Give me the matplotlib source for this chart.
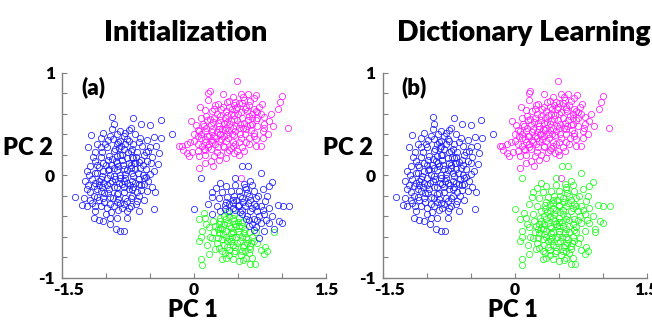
import numpy as np
import matplotlib
matplotlib.use("Agg")
import matplotlib.pyplot as plt
from matplotlib.transforms import ScaledTranslation

plt.rcParams['font.family'] = ['Lato', 'DejaVu Sans']

# ---------------- data (PC1, PC2) ----------------
left_cluster = [
    (-0.93, 0.57), (-0.69, 0.56), (-0.91, 0.50), (-0.60, 0.50), (-0.50, 0.49), (-0.38, 0.54),
    (-0.72, 0.46), (-0.93, 0.45), (-0.84, 0.43), (-0.78, 0.41), (-1.03, 0.41), (-1.17, 0.39),
    (-1.06, 0.36), (-0.95, 0.38), (-0.25, 0.40), (-0.61, 0.36), (-0.53, 0.34), (-0.45, 0.37),
    (-0.37, 0.36), (-1.20, 0.27), (-1.13, 0.22), (-1.06, 0.27), (-0.99, 0.27), (-0.88, 0.30),
    (-0.84, 0.33), (-0.74, 0.33), (-0.69, 0.30), (-0.59, 0.28), (-0.50, 0.27), (-0.43, 0.28),
    (-0.40, 0.21), (-0.52, 0.23), (-0.57, 0.20), (-0.65, 0.22), (-0.72, 0.23), (-0.80, 0.25),
    (-0.91, 0.23), (-0.97, 0.19), (-0.88, 0.19), (-0.84, 0.20), (-0.76, 0.17), (-0.69, 0.17),
    (-0.60, 0.15), (-0.53, 0.14), (-0.49, 0.12), (-0.41, 0.11), (-1.03, 0.12), (-1.10, 0.10),
    (-1.18, 0.09), (-1.22, 0.04), (-1.24, -0.06), (-1.22, -0.14), (-1.25, -0.22), (-1.35, -0.21),
    (-1.27, -0.29), (-1.16, -0.27), (-1.18, -0.17), (-1.14, -0.11), (-1.08, -0.06), (-1.10, 0.02),
    (-1.03, 0.04), (-0.97, 0.06), (-0.91, 0.07), (-0.86, 0.09), (-0.80, 0.06), (-0.72, 0.07),
    (-0.67, 0.06), (-0.61, 0.07), (-0.55, 0.06), (-0.50, 0.01), (-0.57, -0.03), (-0.63, -0.09),
    (-0.57, -0.09), (-0.48, -0.12), (-0.44, -0.17), (-0.69, -0.12), (-0.76, -0.08), (-0.84, -0.03),
    (-0.91, -0.01), (-0.99, -0.03), (-1.03, -0.08), (-0.97, -0.14), (-1.06, -0.16), (-1.10, -0.21),
    (-1.03, -0.22), (-0.95, -0.21), (-0.88, -0.19), (-0.80, -0.17), (-0.72, -0.22), (-0.76, -0.25),
    (-0.84, -0.27), (-0.91, -0.30), (-0.99, -0.32), (-1.06, -0.30), (-1.12, -0.35), (-0.86, -0.34),
    (-0.76, -0.35), (-0.74, -0.32), (-0.65, -0.25), (-0.57, -0.24), (-0.63, -0.35), (-0.45, -0.33),
    (-1.14, -0.42), (-1.08, -0.44), (-1.03, -0.45), (-0.95, -0.42), (-0.96, -0.48), (-0.89, -0.53),
    (-0.84, -0.55), (-0.79, -0.55), (-0.76, -0.42), (-0.88, -0.42), (-0.82, -0.09), (-0.88, -0.12),
    (-0.93, -0.06), (-1.05, -0.01), (-0.69, -0.01), (-0.53, -0.16), (-0.65, -0.17), (-0.78, 0.01),
    (-0.89, 0.14), (-0.82, 0.15), (-0.74, 0.12), (-0.67, 0.12),
    (-1.12, 0.02), (-1.08, -0.10), (-1.00, 0.10), (-0.95, 0.00), (-0.90, 0.25), (-0.86, 0.32),
    (-0.82, 0.20), (-0.78, 0.30), (-0.75, 0.22), (-0.70, 0.25), (-0.66, 0.18), (-0.64, 0.02),
    (-0.62, -0.04), (-0.70, -0.06), (-0.74, -0.14), (-0.80, -0.12), (-0.86, -0.18), (-0.92, -0.22),
    (-0.98, -0.18), (-1.02, -0.26), (-1.08, -0.24), (-1.14, -0.20), (-1.16, -0.04), (-1.19, 0.00),
    (-1.12, 0.14), (-1.06, 0.18), (-0.98, 0.15), (-0.94, 0.10), (-0.88, 0.05), (-0.84, 0.00),
    (-0.78, -0.03), (-0.72, 0.10), (-0.68, 0.12), (-0.58, 0.10), (-0.55, -0.02), (-0.60, -0.15),
    (-0.66, -0.28), (-0.72, -0.30), (-0.82, -0.32), (-0.94, -0.36), (-1.00, -0.38), (-1.04, -0.12),
    (-0.96, -0.08), (-0.90, -0.04), (-0.85, 0.26), (-0.92, 0.35), (-0.80, 0.38), (-0.74, 0.44),
    (-0.67, 0.40), (-1.01, 0.30), (-1.13, -0.30), (-1.20, -0.10), (-0.88, -0.26), (-0.78, -0.22),
    (-0.70, -0.20),
    (-1.10, 0.30), (-1.04, 0.22), (-0.98, 0.05), (-0.93, 0.16), (-0.87, 0.12), (-0.81, 0.10),
    (-0.76, 0.05), (-0.70, 0.02), (-0.63, 0.13), (-0.58, 0.00), (-0.52, -0.06), (-0.60, -0.10),
    (-0.67, -0.08), (-0.73, -0.10), (-0.79, -0.06), (-0.85, -0.08), (-0.91, -0.12), (-0.99, -0.10),
    (-1.06, -0.04), (-1.12, -0.08), (-1.18, -0.24), (-1.10, -0.14), (-1.02, -0.18), (-0.95, -0.28),
    (-0.86, -0.23), (-0.80, -0.28), (-0.70, -0.14), (-0.62, -0.20), (-0.98, 0.34), (-0.87, 0.40),
    (-0.76, 0.35), (-0.63, 0.32), (-0.55, 0.22), (-0.48, 0.18), (-0.46, 0.04), (-1.15, 0.18),
    (-1.22, -0.30), (-1.08, 0.08), (-0.83, 0.28), (-0.71, 0.18),
]

top_cluster = [
    (0.49, 0.92), (0.18, 0.82), (0.16, 0.80), (0.16, 0.73), (0.33, 0.79), (0.44, 0.76),
    (0.53, 0.79), (0.61, 0.79), (0.71, 0.78), (1.00, 0.77), (0.98, 0.71), (0.96, 0.64),
    (1.07, 0.46), (0.27, 0.69), (0.37, 0.71), (0.47, 0.71), (0.57, 0.73), (0.68, 0.75),
    (0.77, 0.69), (0.07, 0.66), (0.13, 0.63), (0.23, 0.64), (0.31, 0.64), (0.40, 0.66),
    (0.49, 0.66), (0.59, 0.66), (0.68, 0.64), (0.87, 0.60), (0.80, 0.57), (0.72, 0.61),
    (-0.03, 0.53), (0.02, 0.49), (0.08, 0.56), (0.15, 0.54), (0.23, 0.56), (0.30, 0.58),
    (0.38, 0.59), (0.46, 0.59), (0.53, 0.61), (0.63, 0.58), (0.70, 0.54), (0.79, 0.46),
    (0.85, 0.53), (0.11, 0.48), (0.19, 0.49), (0.27, 0.51), (0.34, 0.51), (0.42, 0.53),
    (0.49, 0.54), (0.57, 0.51), (0.64, 0.49), (0.72, 0.48), (0.06, 0.43), (0.13, 0.43),
    (0.21, 0.45), (0.28, 0.45), (0.36, 0.46), (0.44, 0.46), (0.51, 0.46), (0.59, 0.45),
    (0.68, 0.41), (0.78, 0.43), (0.00, 0.33), (0.08, 0.36), (0.15, 0.38), (0.23, 0.38),
    (0.30, 0.40), (0.38, 0.40), (0.46, 0.39), (0.53, 0.36), (0.63, 0.36), (0.70, 0.35),
    (0.78, 0.36), (0.70, 0.28), (0.76, 0.28), (-0.08, 0.30), (-0.17, 0.28), (-0.14, 0.28),
    (-0.04, 0.32), (0.04, 0.30), (0.13, 0.32), (0.21, 0.32), (0.28, 0.33), (0.36, 0.33),
    (0.44, 0.32), (0.51, 0.32), (0.59, 0.32), (-0.08, 0.21), (-0.02, 0.22), (0.04, 0.23),
    (0.11, 0.25), (0.19, 0.25), (0.27, 0.27), (0.34, 0.27), (0.42, 0.26), (0.49, 0.23),
    (0.57, 0.23), (-0.06, 0.19), (0.06, 0.19), (0.13, 0.20), (0.23, 0.19), (0.30, 0.20),
    (0.38, 0.22), (0.46, 0.21), (-0.13, 0.24), (0.13, 0.12), (0.22, 0.09), (0.06, 0.07),
    (0.28, 0.15), (0.36, 0.17), (0.51, 0.20), (0.19, 0.14),
    (0.20, 0.42), (0.25, 0.36), (0.32, 0.45), (0.40, 0.50), (0.45, 0.55), (0.50, 0.60),
    (0.55, 0.56), (0.60, 0.62), (0.62, 0.68), (0.55, 0.70), (0.48, 0.64), (0.42, 0.60),
    (0.35, 0.56), (0.28, 0.48), (0.22, 0.52), (0.17, 0.38), (0.12, 0.35), (0.09, 0.28),
    (0.16, 0.27), (0.24, 0.30), (0.31, 0.35), (0.39, 0.36), (0.47, 0.43), (0.52, 0.50),
    (0.58, 0.40), (0.65, 0.44), (0.66, 0.56), (0.70, 0.62), (0.74, 0.66), (0.64, 0.72),
    (0.56, 0.76), (0.45, 0.68), (0.36, 0.62), (0.26, 0.60), (0.18, 0.55), (0.10, 0.50),
    (0.05, 0.38), (0.33, 0.28), (0.44, 0.28), (0.55, 0.27), (0.60, 0.48), (0.68, 0.38),
    (0.40, 0.44), (0.29, 0.40), (0.53, -0.03),
    (0.08, 0.40), (0.14, 0.46), (0.20, 0.34), (0.26, 0.42), (0.34, 0.38), (0.37, 0.52),
    (0.43, 0.40), (0.48, 0.48), (0.52, 0.40), (0.56, 0.46), (0.61, 0.54), (0.66, 0.50),
    (0.72, 0.56), (0.76, 0.60), (0.58, 0.64), (0.51, 0.70), (0.40, 0.72), (0.33, 0.66),
    (0.24, 0.68), (0.14, 0.58), (0.20, 0.62), (0.04, 0.44), (0.00, 0.40), (0.12, 0.24),
    (0.26, 0.22), (0.40, 0.24), (0.47, 0.30), (0.62, 0.30), (0.66, 0.60), (0.80, 0.50),
    (0.84, 0.40), (0.90, 0.48), (0.43, 0.64), (0.30, 0.54), (0.17, 0.30), (0.35, 0.44),
]

# lower-right cluster: part assigned to the blue atom at initialization
lower_init_blue = [
    (0.54, 0.09), (0.61, 0.09), (0.76, 0.02), (0.08, -0.03), (0.47, -0.03), (0.89, -0.07),
    (0.85, -0.11), (0.64, -0.06), (0.57, -0.09), (0.47, -0.10), (0.36, -0.11), (0.30, -0.08),
    (0.25, -0.13), (0.21, -0.17), (0.32, -0.17), (0.42, -0.16), (0.51, -0.16), (0.59, -0.14),
    (0.68, -0.16), (0.78, -0.14), (0.83, -0.20), (0.81, -0.25), (0.70, -0.22), (0.62, -0.20),
    (0.55, -0.22), (0.45, -0.20), (0.38, -0.21), (0.28, -0.22), (0.20, -0.21), (0.35, -0.29),
    (0.44, -0.27), (0.51, -0.29), (0.61, -0.27), (0.68, -0.28), (0.76, -0.30), (0.85, -0.32),
    (0.95, -0.29), (1.01, -0.30), (1.08, -0.30), (0.00, -0.33), (0.21, -0.38), (0.30, -0.35),
    (0.40, -0.35), (0.47, -0.34), (0.55, -0.34), (0.64, -0.35), (0.72, -0.35), (0.80, -0.38),
    (0.89, -0.40), (0.97, -0.45), (1.00, -0.47), (0.91, -0.53), (0.80, -0.55), (0.85, -0.47),
    (0.68, -0.43), (0.76, -0.47), (0.70, -0.51), (0.74, -0.61), (0.72, -0.44), (0.35, -0.33),
    (0.50, -0.30), (0.58, -0.30), (0.64, -0.24), (0.70, -0.30), (0.52, -0.20), (0.44, -0.24),
    (0.36, -0.26), (0.60, -0.18), (0.60, -0.40), (0.55, -0.38), (0.62, -0.50), (0.59, -0.43),
    (0.66, -0.48),
    (0.40, -0.28), (0.48, -0.24), (0.56, -0.26), (0.66, -0.32), (0.74, -0.40), (0.62, -0.44),
    (0.52, -0.36), (0.44, -0.32), (0.58, -0.12), (0.66, -0.10), (0.73, -0.20), (0.78, -0.34),
    (0.82, -0.44), (0.68, -0.54), (0.26, -0.30), (0.16, -0.28),
]

# lower-right cluster: part assigned to the green atom at initialization
lower_init_green = [
    (0.11, -0.37), (0.06, -0.43), (0.13, -0.42), (0.91, -0.56), (0.09, -0.55), (0.06, -0.64),
    (0.08, -0.60), (0.17, -0.51), (0.21, -0.61), (0.15, -0.68), (0.23, -0.56), (0.28, -0.48),
    (0.36, -0.43), (0.44, -0.42), (0.51, -0.42), (0.55, -0.50), (0.47, -0.48), (0.40, -0.50),
    (0.32, -0.53), (0.27, -0.61), (0.36, -0.60), (0.44, -0.56), (0.51, -0.58), (0.59, -0.60),
    (0.66, -0.60), (0.72, -0.66), (0.64, -0.69), (0.57, -0.68), (0.49, -0.66), (0.42, -0.64),
    (0.34, -0.68), (0.28, -0.71), (0.32, -0.74), (0.40, -0.73), (0.47, -0.74), (0.55, -0.74),
    (0.62, -0.76), (0.66, -0.81), (0.59, -0.81), (0.51, -0.84), (0.44, -0.82), (0.36, -0.81),
    (0.32, -0.82), (0.17, -0.77), (0.08, -0.82), (0.09, -0.88), (0.56, -0.83), (0.69, -0.87),
    (0.64, -0.87), (0.80, -0.77), (0.83, -0.74), (0.76, -0.73), (0.81, -0.70),
    (0.30, -0.45), (0.34, -0.40), (0.38, -0.47), (0.42, -0.52), (0.46, -0.45), (0.50, -0.55),
    (0.54, -0.46), (0.58, -0.53), (0.62, -0.56), (0.48, -0.60), (0.44, -0.68), (0.40, -0.62),
    (0.36, -0.55), (0.32, -0.62), (0.28, -0.57), (0.24, -0.50), (0.26, -0.66), (0.38, -0.70),
    (0.52, -0.64), (0.56, -0.70), (0.60, -0.66), (0.64, -0.72), (0.70, -0.56), (0.45, -0.38),
    (0.40, -0.40), (0.48, -0.50), (0.42, -0.57), (0.34, -0.48), (0.30, -0.52), (0.46, -0.76),
    (0.53, -0.78), (0.68, -0.64),
    (0.22, -0.45), (0.27, -0.53), (0.33, -0.58), (0.38, -0.64), (0.43, -0.60), (0.47, -0.70),
    (0.51, -0.50), (0.57, -0.57), (0.61, -0.62), (0.65, -0.66), (0.35, -0.76), (0.24, -0.72),
    (0.18, -0.60), (0.14, -0.48), (0.29, -0.42), (0.37, -0.36), (0.50, -0.46), (0.54, -0.60),
    (0.40, -0.78), (0.58, -0.74),
]

panel_titles = ["Initialization", "Dictionary Learning"]
panel_tags = ["(a)", "(b)"]
xticks_all = [-1.5, -1.0, -0.5, 0.0, 0.5, 1.0, 1.5]
xtick_labels = ["-1.5", "", "", "0", "", "", "1.5"]
yticks_all = [-1.0, -0.8, -0.6, -0.4, -0.2, 0.0, 0.2, 0.4, 0.6, 0.8, 1.0]
ytick_labels = ["-1", "", "", "", "", "0", "", "", "", "", "1"]

BLUE = "#1a1aff"
MAGENTA = "#ff1aff"
GREEN = "#1aff1a"
WEIGHT = 'heavy'

W, H = 652, 329
fig = plt.figure(figsize=(W / 100, H / 100), dpi=100)

def fx(px):
    return px / W

def fy(py):
    return 1 - py / H

ax_left_px = [62, 382.5]
ax_w_px = 264
ax_top_px, ax_bot_px = 72.5, 277.5

def pts(lst):
    a = np.array(lst, dtype=float)
    return a[:, 0], a[:, 1]

mk = dict(marker='o', linestyle='none', mfc='none', ms=4.5, mew=0.55)

for i in range(2):
    L = ax_left_px[i]
    ax = fig.add_axes([fx(L), fy(ax_bot_px), ax_w_px / W, (ax_bot_px - ax_top_px) / H])
    ax.set_xlim(-1.5, 1.5)
    ax.set_ylim(-1, 1)
    x, y = pts(left_cluster)
    ax.plot(x, y, color=BLUE, **mk)
    x, y = pts(top_cluster)
    ax.plot(x, y, color=MAGENTA, **mk)
    if i == 0:
        x, y = pts(lower_init_green)
        ax.plot(x, y, color=GREEN, **mk)
        x, y = pts(lower_init_blue)
        ax.plot(x, y, color=BLUE, **mk)
    else:
        x, y = pts(lower_init_blue + lower_init_green)
        ax.plot(x, y, color=GREEN, **mk)

    for s in ['top', 'right']:
        ax.spines[s].set_visible(False)
    for s in ['left', 'bottom']:
        ax.spines[s].set_color('#808080')
        ax.spines[s].set_linewidth(1.0)
    ax.set_xticks(xticks_all)
    ax.set_xticklabels(xtick_labels)
    ax.set_yticks(yticks_all)
    ax.set_yticklabels(ytick_labels)
    ax.tick_params(direction='in', length=3.5, width=0.8, color='#808080',
                   labelsize=12.5, labelcolor='black', pad=3)
    ax.tick_params(axis='y', pad=5)
    for lab in ax.get_xticklabels() + ax.get_yticklabels():
        lab.set_fontweight(WEIGHT)
    first = ax.get_xticklabels()[0]
    first.set_transform(first.get_transform() + ScaledTranslation(0.07, 0, fig.dpi_scale_trans))
    ax.set_facecolor('none')

    ax.text(0.12, 0.93, panel_tags[i], transform=ax.transAxes, ha='center', va='center',
            fontsize=16, fontweight=WEIGHT)

    off = 0 if i == 0 else 320
    fig.text(fx(53 + off), fy(155), "PC 2", ha='right', va='baseline', fontsize=17, fontweight=WEIGHT)
    fig.text(fx(193 + off), fy(317), "PC 1", ha='center', va='baseline', fontsize=17, fontweight=WEIGHT)

fig.text(fx(186), fy(41), panel_titles[0], ha='center', va='baseline', fontsize=21, fontweight=WEIGHT)
fig.text(fx(524), fy(41), panel_titles[1], ha='center', va='baseline', fontsize=20.5, fontweight=WEIGHT)

fig.savefig("out.png", dpi=100)
